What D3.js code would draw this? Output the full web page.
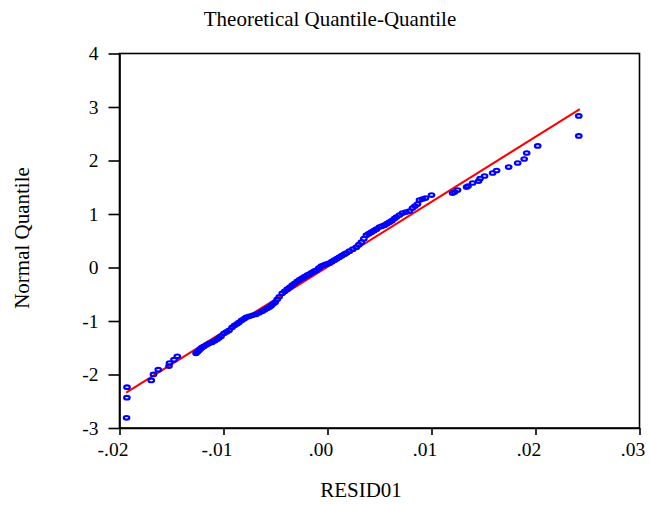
<!DOCTYPE html>
<html>
<head>
<meta charset="utf-8">
<script src="https://cdn.jsdelivr.net/npm/d3@7/dist/d3.min.js"></script>
<style>
  html, body { margin: 0; padding: 0; background: #fff; }
  svg { display: block; }
  text { font-family: "Liberation Serif", "Times New Roman", Times, serif; fill: #000; }
</style>
</head>
<body>
<div id="chart"></div>
<script>
// ---- data ----
const title = "Theoretical Quantile-Quantile";
const xLabel = "RESID01";
const yLabel = "Normal Quantile";

const xTickValues = [-0.02, -0.01, 0.00, 0.01, 0.02, 0.03];
const xTickLabels = ["-.02", "-.01", ".00", ".01", ".02", ".03"];
const yTickValues = [-3, -2, -1, 0, 1, 2, 3, 4];
const yTickLabels = ["-3", "-2", "-1", "0", "1", "2", "3", "4"];

// residuals (sorted)
const resid = [
  -0.01932, -0.01929, -0.01928, -0.016946, -0.016734, -0.016272, -0.015241, -0.015193, -0.014759, -0.014441,
  -0.012640, -0.012495, -0.012351, -0.012206, -0.012062, -0.011869, -0.011628, -0.011387, -0.011098, -0.010858,
  -0.010617, -0.010424, -0.010231, -0.009942, -0.009702, -0.009461, -0.009172, -0.008931, -0.008690, -0.008497,
  -0.008256, -0.008016, -0.007823, -0.007534, -0.007197, -0.006859, -0.006570, -0.006281, -0.006041, -0.005800,
  -0.005607, -0.005414, -0.005222, -0.005029, -0.004836, -0.004644, -0.004355, -0.004114, -0.003873, -0.003632,
  -0.003391, -0.003150, -0.002909, -0.002669, -0.002428, -0.002187, -0.001946, -0.001753, -0.001513, -0.001272,
  -0.001079, -0.000838, -0.000597, -0.000356, -0.000116, 0.000173, 0.000414, 0.000655, 0.000896, 0.001137,
  0.001378, 0.001619, 0.001811, 0.002100, 0.002437, 0.002775, 0.003015, 0.003256, 0.003497, 0.003738,
  0.003979, 0.004220, 0.004461, 0.004701, 0.004990, 0.005231, 0.005472, 0.005713, 0.005954, 0.006195,
  0.006436, 0.006628, 0.006917, 0.007206, 0.007543, 0.007881, 0.008170, 0.008411, 0.008651, 0.008844,
  0.009133, 0.009422, 0.010000,
  0.012023, 0.012216, 0.012505, 0.013372, 0.013516, 0.013950, 0.014528, 0.014673, 0.015106, 0.015877,
  0.016262, 0.017418, 0.018285, 0.018911, 0.019152, 0.020212, 0.024163, 0.024163
];

// normal quantiles matching each residual
const normQ = [
  -2.809, -2.434, -2.236, -2.110, -1.998, -1.910, -1.843, -1.787, -1.723, -1.661,
  -1.605, -1.577, -1.549, -1.521, -1.493, -1.474, -1.446, -1.418, -1.399, -1.371,
  -1.343, -1.315, -1.287, -1.230, -1.202, -1.174, -1.118, -1.081, -1.052, -1.024,
  -0.987, -0.959, -0.931, -0.912, -0.893, -0.875, -0.846, -0.818, -0.790, -0.762,
  -0.743, -0.715, -0.678, -0.650, -0.594, -0.547, -0.481, -0.444, -0.406, -0.369,
  -0.331, -0.294, -0.257, -0.228, -0.200, -0.172, -0.144, -0.125, -0.097, -0.069,
  -0.051, -0.013, 0.024, 0.043, 0.062, 0.081, 0.109, 0.137, 0.165, 0.193,
  0.221, 0.249, 0.268, 0.305, 0.343, 0.380, 0.427, 0.474, 0.539, 0.605,
  0.633, 0.661, 0.689, 0.717, 0.755, 0.773, 0.792, 0.820, 0.848, 0.876,
  0.914, 0.942, 0.979, 1.017, 1.036, 1.054, 1.110, 1.148, 1.185, 1.260,
  1.279, 1.298, 1.354,
  1.391, 1.410, 1.448, 1.504, 1.522, 1.579, 1.616, 1.663, 1.710, 1.766,
  1.813, 1.878, 1.953, 2.028, 2.140, 2.272, 2.459, 2.833
];

// fitted reference line (endpoints)
const lineX = [-0.01936, 0.02426];
const lineY = [-2.34, 2.96];

// ---- drawing ----
const W = 650, H = 505;
const margin = { left: 119.5, right: 10.5, top: 53.5, bottom: 77 };

const svg = d3.select("#chart").append("svg")
  .attr("width", W).attr("height", H);

const x = d3.scaleLinear().domain([-0.02, 0.03]).range([margin.left, W - margin.right]);
const y = d3.scaleLinear().domain([-3, 4]).range([H - margin.bottom, margin.top]);

// frame
svg.append("rect")
  .attr("x", x(-0.02)).attr("y", y(4))
  .attr("width", x(0.03) - x(-0.02)).attr("height", y(-3) - y(4))
  .attr("fill", "none").attr("stroke", "#000").attr("stroke-width", 1.6);

// axes
const yAxis = d3.axisLeft(y)
  .tickValues(yTickValues)
  .tickFormat((d, i) => yTickLabels[i])
  .tickSize(11).tickSizeOuter(0).tickPadding(10);
const gy = svg.append("g").attr("transform", `translate(${x(-0.02)},0)`).call(yAxis);

const xAxis = d3.axisBottom(x)
  .tickValues(xTickValues)
  .tickFormat((d, i) => xTickLabels[i])
  .tickSize(7).tickSizeOuter(0).tickPadding(7);
const gx = svg.append("g").attr("transform", `translate(0,${y(-3)})`).call(xAxis);

[gx, gy].forEach(g => {
  g.select(".domain").attr("stroke", "#000").attr("stroke-width", 1.6);
  g.selectAll(".tick line").attr("stroke", "#000").attr("stroke-width", 1.6);
  g.selectAll(".tick text")
    .attr("font-family", '"Liberation Serif", "Times New Roman", serif')
    .attr("font-size", 19.5).attr("fill", "#000");
});
// x tick labels sit slightly left of their ticks in the reference
gx.selectAll(".tick text").attr("dx", -7);

// reference line
svg.append("line")
  .attr("x1", x(lineX[0])).attr("y1", y(lineY[0]))
  .attr("x2", x(lineX[1])).attr("y2", y(lineY[1]))
  .attr("stroke", "#ff0000").attr("stroke-width", 2);

// points
const pts = resid.map((r, i) => ({ r, q: normQ[i] }));
svg.append("g").selectAll("ellipse").data(pts).join("ellipse")
  .attr("cx", d => x(d.r)).attr("cy", d => y(d.q))
  .attr("rx", 2.8).attr("ry", 1.8)
  .attr("fill", "none").attr("stroke", "#0000ff").attr("stroke-width", 2.1);

// titles
svg.append("text")
  .attr("x", 330).attr("y", 26)
  .attr("text-anchor", "middle").attr("font-size", 21)
  .text(title);

svg.append("text")
  .attr("x", 361).attr("y", 497)
  .attr("text-anchor", "middle").attr("font-size", 21)
  .text(xLabel);

svg.append("text")
  .attr("transform", `translate(29,238) rotate(-90)`)
  .attr("text-anchor", "middle").attr("font-size", 21)
  .text(yLabel);
</script>
</body>
</html>
